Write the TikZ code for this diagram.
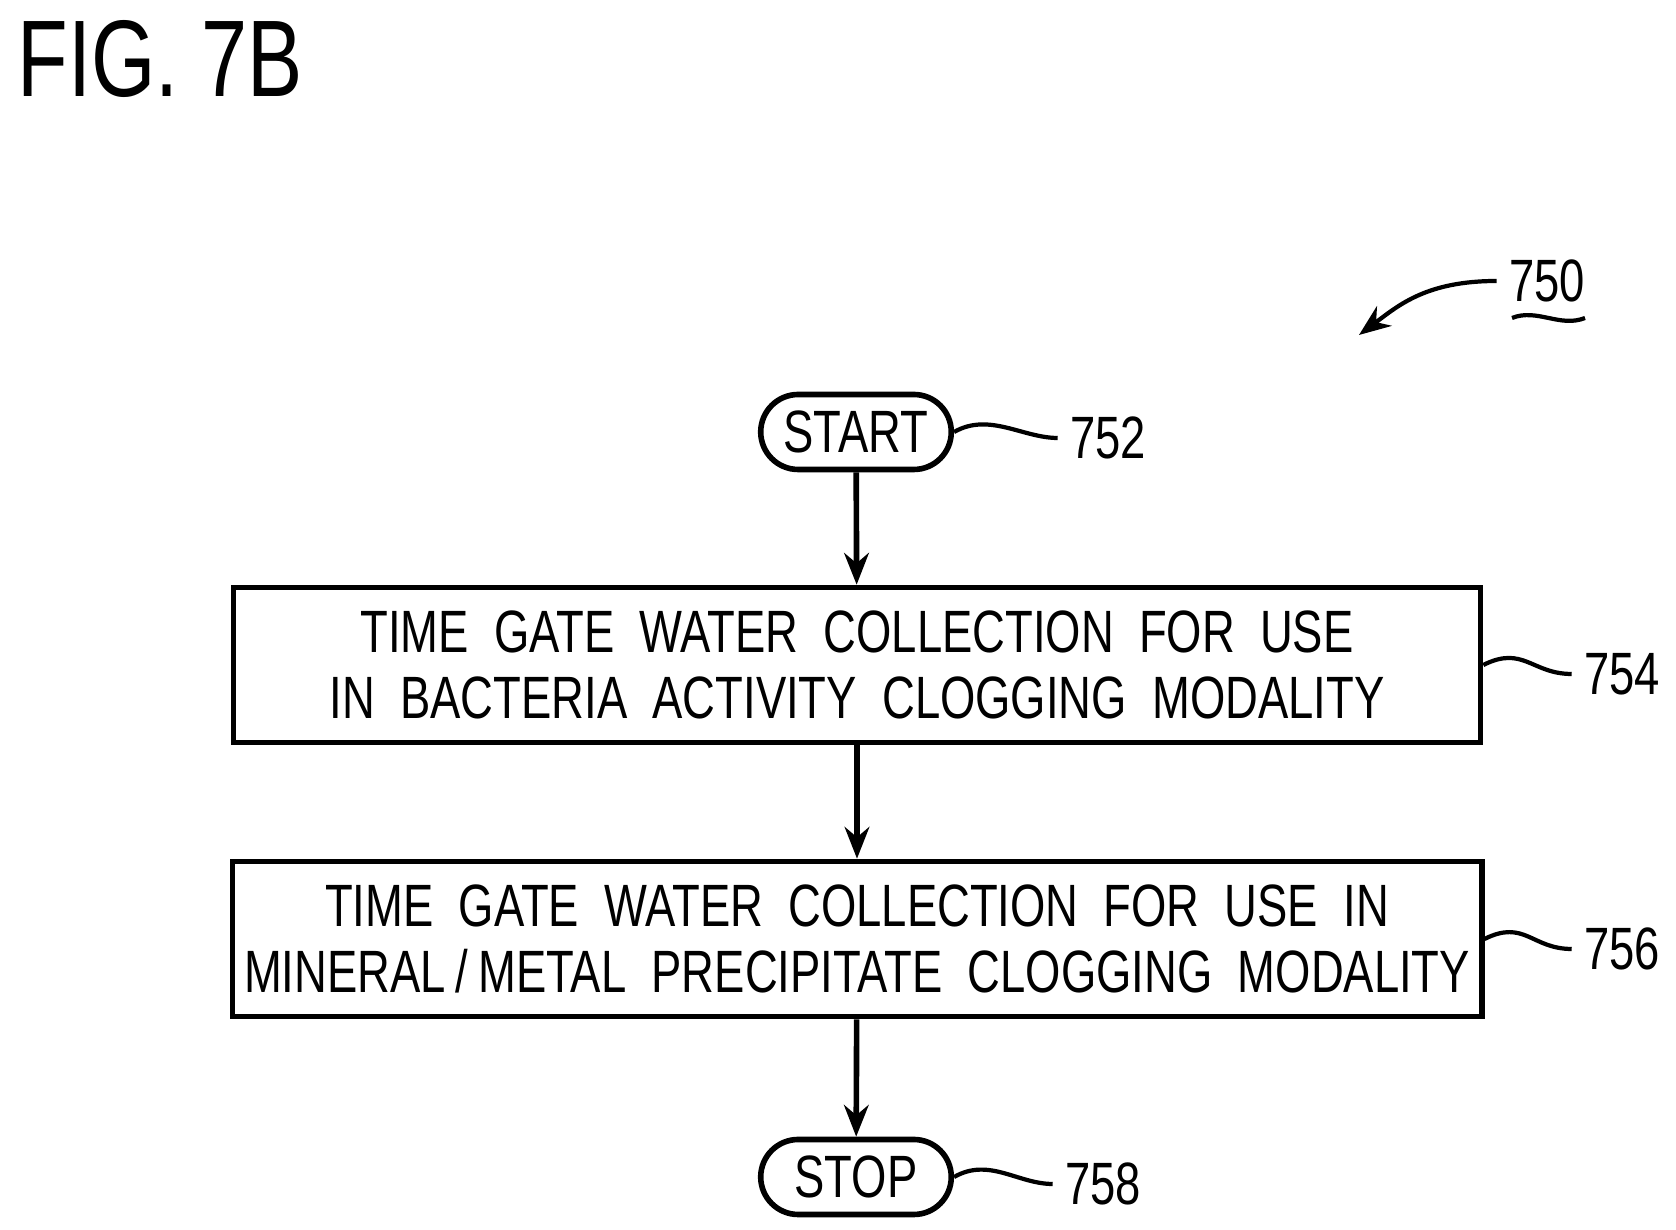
\documentclass[tikz,border=0pt]{standalone}
\usepackage{fontspec}
\setmainfont{Liberation Sans}[FakeStretch=0.76]
\usetikzlibrary{positioning,shapes.misc,arrows.meta}
\tikzset{
  procbox/.style={draw,line width=1.6pt,minimum width=12.47cm,minimum height=1.55cm,
    align=center,font=\fontsize{17}{19}\selectfont},
  term/.style={draw,line width=1.6pt,rounded rectangle,minimum width=2.14cm,
    minimum height=0.75cm,font=\fontsize{17}{20}\selectfont},
  flow/.style={line width=1.6pt,-{Stealth[length=9pt,width=7pt]}},
  lead/.style={line width=1.2pt},
  ref/.style={font=\fontsize{17}{20}\selectfont}
}
\begin{document}
\begin{tikzpicture}
  \useasboundingbox (0,0) rectangle (16.76,12.30);
  \node[anchor=west,font=\fontsize{31}{36}\selectfont] (fig) at (0.05,11.71) {FIG. 7B};

  \node[term] (start) at (8.56,7.98) {START};
  \node[procbox] (collect1) at (8.57,5.65) {TIME\ \ GATE\ \ WATER\ \ COLLECTION\ \ FOR\ \ USE\\IN\ \ BACTERIA\ \ ACTIVITY\ \ CLOGGING\ \ MODALITY};
  \node[procbox] (collect2) at (8.57,2.91) {TIME\ \ GATE\ \ WATER\ \ COLLECTION\ \ FOR\ \ USE\ \ IN\\MINERAL\,/\,METAL\ \ PRECIPITATE\ \ CLOGGING\ \ MODALITY};
  \node[term] (stop) at (8.56,0.53) {STOP};

  \draw[flow] (start) -- (collect1);
  \draw[flow] (collect1) -- (collect2);
  \draw[flow] (collect2) -- (stop);

  % reference numerals
  \node[ref] (n752) at (11.08,7.92) {752};
  \node[ref] (n754) at (16.22,5.56) {754};
  \node[ref] (n756) at (16.22,2.81) {756};
  \node[ref] (n758) at (11.03,0.46) {758};
  \node[ref] (n750) at (15.47,9.49) {750};
  \coordinate (u1) at (15.12,9.12);
  \coordinate (u2) at (15.85,9.12);
  \coordinate (tip) at (13.59,8.95);
  \draw[lead] (u1) .. controls +(0.25,0.1) and +(-0.25,-0.1) .. (u2);

  \draw[lead] (start.east) .. controls +(0.35,0.2) and +(-0.35,0) .. (n752.west);
  \draw[lead] (collect1.east) .. controls +(0.4,0.2) and +(-0.4,0) .. (n754.west);
  \draw[lead] (collect2.east) .. controls +(0.4,0.2) and +(-0.4,0) .. (n756.west);
  \draw[lead] (stop.east) .. controls +(0.35,0.2) and +(-0.35,0) .. (n758.west);
  \draw[lead,-{Stealth[length=9pt,width=7pt]}] (n750.west) .. controls +(-0.7,0) and +(0.4,0.3) .. (tip);
\end{tikzpicture}
\end{document}
